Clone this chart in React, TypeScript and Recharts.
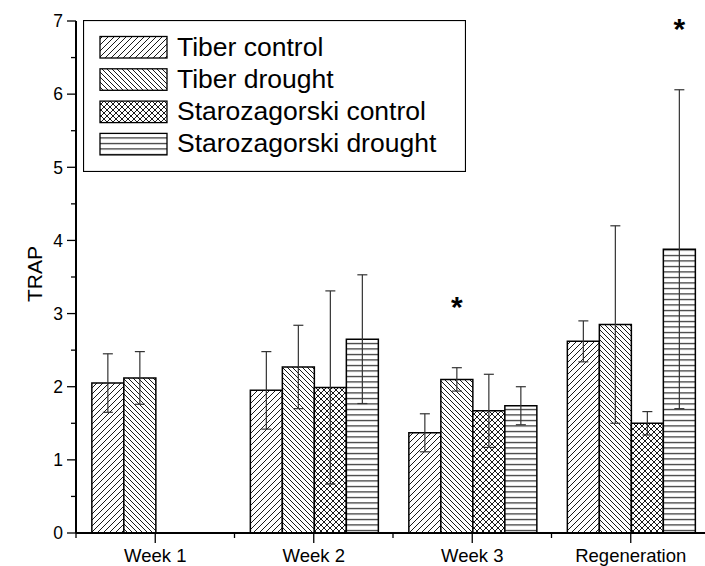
import React from 'react';
import { BarChart, Bar, XAxis, YAxis, ErrorBar, Legend, LabelList } from 'recharts';

const categories = ['Week 1', 'Week 2', 'Week 3', 'Regeneration'];
const tiberControl = [2.05, 1.95, 1.37, 2.62];
const tiberControlErr = [0.4, 0.53, 0.26, 0.28];
const tiberDrought = [2.12, 2.27, 2.1, 2.85];
const tiberDroughtErr = [0.36, 0.57, 0.16, 1.35];
const staroControl = [null, 1.99, 1.67, 1.5];
const staroControlErr = [null, 1.32, 0.5, 0.16];
const staroDrought = [null, 2.65, 1.74, 3.88];
const staroDroughtErr = [null, 0.88, 0.26, 2.18];
// significance marks (*) above a bar
const tiberDroughtSig = [false, false, true, false];
const staroDroughtSig = [false, false, false, true];
const yTicks = [0, 0.5, 1, 1.5, 2, 2.5, 3, 3.5, 4, 4.5, 5, 5.5, 6, 6.5, 7];

const seriesNames = ['Tiber control', 'Tiber drought', 'Starozagorski control', 'Starozagorski drought'];
const patternIds = ['patTC', 'patTD', 'patSC', 'patSD'];

const data = categories.map((c, i) => ({
  name: c,
  tc: tiberControl[i],
  tcErr: tiberControlErr[i],
  td: tiberDrought[i],
  tdErr: tiberDroughtErr[i],
  sc: staroControl[i],
  scErr: staroControlErr[i],
  sd: staroDrought[i],
  sdErr: staroDroughtErr[i],
}));

const FONT = '"Liberation Sans", Arial, sans-serif';

const PatternDefs = ({ suffix = '' }: { suffix?: string }) => (
  <defs>
    <pattern id={'patTC' + suffix} width={6} height={6} patternUnits="userSpaceOnUse">
      <rect width={6} height={6} fill="#fff" />
      <path d="M0,6 L6,0 M-1,1 L1,-1 M5,7 L7,5" stroke="#000" strokeWidth={0.9} />
    </pattern>
    <pattern id={'patTD' + suffix} width={5} height={5} patternUnits="userSpaceOnUse">
      <rect width={5} height={5} fill="#fff" />
      <path d="M0,0 L5,5 M-1,4 L1,6 M4,-1 L6,1" stroke="#000" strokeWidth={0.9} />
    </pattern>
    <pattern id={'patSC' + suffix} width={6} height={6} patternUnits="userSpaceOnUse">
      <rect width={6} height={6} fill="#fff" />
      <path d="M0,6 L6,0 M-1,1 L1,-1 M5,7 L7,5 M0,0 L6,6 M-1,5 L1,7 M5,-1 L7,1" stroke="#000" strokeWidth={0.9} />
    </pattern>
    <pattern id={'patSD' + suffix} width={6} height={5.5} patternUnits="userSpaceOnUse">
      <rect width={6} height={5.5} fill="#fff" />
      <path d="M0,2.5 L6,2.5" stroke="#000" strokeWidth={1} />
    </pattern>
  </defs>
);

const YTick = (props: any) => {
  const { x, y, payload } = props;
  const major = Number.isInteger(payload.value);
  return (
    <g>
      <line x1={x - (major ? 9 : 5)} y1={y} x2={x} y2={y} stroke="#000" strokeWidth={1.3} />
      {major && (
        <text x={x - 13} y={y} dy="0.36em" textAnchor="end" fontSize={17.5} fontFamily={FONT} fill="#000">
          {payload.value}
        </text>
      )}
    </g>
  );
};

const XTick = (props: any) => {
  const { x, y, payload, width, visibleTicksCount } = props;
  const half = width && visibleTicksCount ? width / visibleTicksCount / 2 : 0;
  return (
    <g>
      <line x1={x} y1={y} x2={x} y2={y + 10} stroke="#000" strokeWidth={1.3} />
      <line x1={x - half} y1={y} x2={x - half} y2={y + 5} stroke="#000" strokeWidth={1.3} />
      <text x={x} y={y + 29} textAnchor="middle" fontSize={18.5} fontFamily={FONT} fill="#000">
        {payload.value}
      </text>
    </g>
  );
};

// LabelList keyed on the category name, so the lookup survives skipped (null) bars
const starLabel = (values: (number | null)[], errs: (number | null)[], sig: boolean[]) => (p: any) => {
  const i = categories.indexOf(p.value);
  if (i < 0 || !sig[i]) return null;
  const v = values[i] as number;
  const e = errs[i] as number;
  const box = p.viewBox ?? p;
  const errPx = (e / v) * Math.abs(box.height);
  const cx = box.x + box.width / 2;
  const top = box.y - errPx;
  return (
    <text x={cx} y={top - 51} textAnchor="middle" fontSize={30} fontWeight="bold" fontFamily={FONT} fill="#000">
      *
    </text>
  );
};

const renderLegend = () => (
  <svg width={383} height={152} style={{ display: 'block' }}>
    <PatternDefs suffix="L" />
    <rect x={0.5} y={0.5} width={382} height={151} fill="#fff" stroke="#000" strokeWidth={1.2} />
    {seriesNames.map((n, i) => (
      <g key={n}>
        <rect
          x={17}
          y={16.5 + i * 32.3}
          width={67}
          height={21.5}
          fill={`url(#${patternIds[i]}L)`}
          stroke="#000"
          strokeWidth={1.3}
        />
        <text x={94} y={35.5 + i * 32.3} fontSize={26.5} fontFamily={FONT} fill="#000">
          {n}
        </text>
      </g>
    ))}
  </svg>
);

export default function App() {
  return (
    <div style={{ position: 'absolute', left: 0, top: 0, width: 705, height: 566, overflow: 'hidden', background: '#fff' }}>
      <BarChart
        width={720}
        height={566}
        data={data}
        margin={{ top: 21, right: 10, bottom: 8, left: 0 }}
        barCategoryGap="10%"
        barGap={0}
        style={{ fontFamily: FONT }}
      >
        <PatternDefs />
        <XAxis
          dataKey="name"
          height={25}
          axisLine={{ stroke: '#000', strokeWidth: 2 }}
          tickLine={false}
          tickSize={0}
          tickMargin={0}
          tick={<XTick />}
          interval={0}
        />
        <YAxis
          width={76}
          domain={[0, 7]}
          ticks={yTicks}
          interval={0}
          axisLine={{ stroke: '#000', strokeWidth: 2 }}
          tickLine={false}
          tickSize={0}
          tickMargin={0}
          tick={<YTick />}
          label={{ value: 'TRAP', angle: -90, position: 'center', dx: -3, dy: -3, fontSize: 21, fill: '#000', fontFamily: FONT }}
        />
        <Legend
          layout="vertical"
          align="center"
          verticalAlign="middle"
          content={renderLegend}
          wrapperStyle={{ left: 83, top: 20, width: 383, height: 152 }}
        />
        <Bar dataKey="tc" name={seriesNames[0]} fill="url(#patTC)" stroke="#000" strokeWidth={1.5} isAnimationActive={false}>
          <ErrorBar dataKey="tcErr" width={5} stroke="#333" strokeWidth={1.2} />
        </Bar>
        <Bar dataKey="td" name={seriesNames[1]} fill="url(#patTD)" stroke="#000" strokeWidth={1.5} isAnimationActive={false}>
          <ErrorBar dataKey="tdErr" width={5} stroke="#333" strokeWidth={1.2} />
          <LabelList dataKey="name" content={starLabel(tiberDrought, tiberDroughtErr, tiberDroughtSig)} />
        </Bar>
        <Bar dataKey="sc" name={seriesNames[2]} fill="url(#patSC)" stroke="#000" strokeWidth={1.5} isAnimationActive={false}>
          <ErrorBar dataKey="scErr" width={5} stroke="#333" strokeWidth={1.2} />
        </Bar>
        <Bar dataKey="sd" name={seriesNames[3]} fill="url(#patSD)" stroke="#000" strokeWidth={1.5} isAnimationActive={false}>
          <ErrorBar dataKey="sdErr" width={5} stroke="#333" strokeWidth={1.2} />
          <LabelList dataKey="name" content={starLabel(staroDrought, staroDroughtErr, staroDroughtSig)} />
        </Bar>
      </BarChart>
    </div>
  );
}
